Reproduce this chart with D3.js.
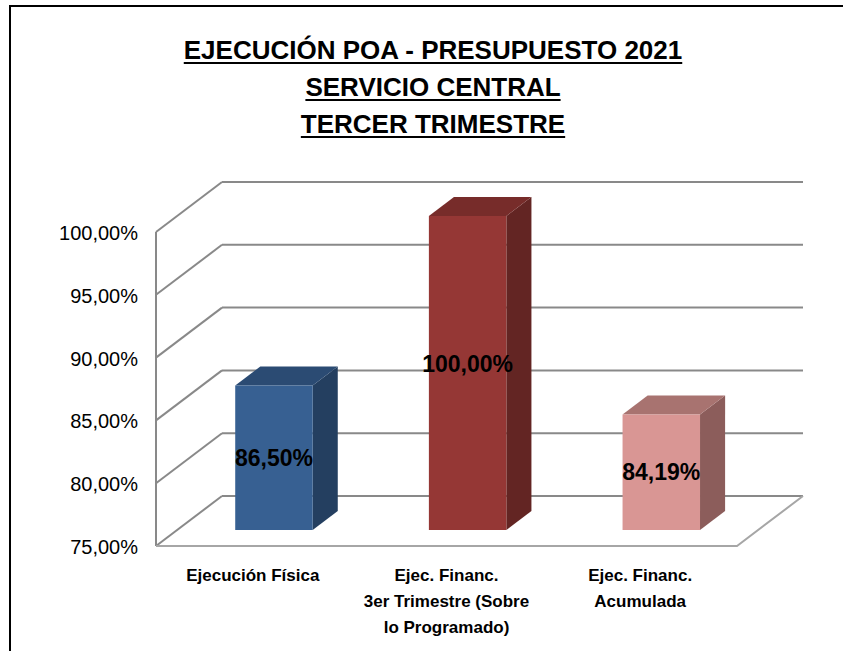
<!DOCTYPE html>
<html>
<head>
<meta charset="utf-8">
<script src="https://cdn.jsdelivr.net/npm/d3@7"></script>
<style>
  body { margin: 0; background: #fff; }
  svg { display: block; }
</style>
</head>
<body>
<div id="chart"></div>
<script>
// chart data
const titleLines = ["EJECUCIÓN POA - PRESUPUESTO 2021", "SERVICIO CENTRAL", "TERCER TRIMESTRE"];
const categories = ["Ejecución Física", "Ejec. Financ. 3er Trimestre (Sobre lo Programado)", "Ejec. Financ. Acumulada"];
const categoryLines = [["Ejecución Física"], ["Ejec. Financ.", "3er Trimestre (Sobre", "lo Programado)"], ["Ejec. Financ.", "Acumulada"]];
const values = [86.50, 100.00, 84.19];
const valueLabels = ["86,50%", "100,00%", "84,19%"];
const ticks = [75, 80, 85, 90, 95, 100];
const tickLabels = ["75,00%", "80,00%", "85,00%", "90,00%", "95,00%", "100,00%"];

const W = 843, H = 651;
const faces = [
  {front: "#376092", top: "#2b4b73", side: "#243f60"},
  {front: "#953735", top: "#772c2a", side: "#632523"},
  {front: "#d99694", top: "#a87370", side: "#8c5d5b"}
];

const svg = d3.select("#chart").append("svg")
  .attr("width", W).attr("height", H);

// outer frame
svg.append("path")
  .attr("d", `M10,${H} L10,6 L${W},6`)
  .attr("fill", "none").attr("stroke", "#000").attr("stroke-width", 2);

// title
const title = svg.append("g");
const titleY = [59, 96, 133];
titleLines.forEach((t, i) => {
  const txt = title.append("text")
    .attr("x", 433).attr("y", titleY[i])
    .attr("text-anchor", "middle")
    .attr("font-family", "'Liberation Sans', Arial, sans-serif")
    .attr("font-weight", "bold")
    .attr("font-size", "26px")
    .text(t);
  const len = txt.node().getComputedTextLength();
  title.append("line")
    .attr("x1", 433 - len / 2).attr("x2", 433 + len / 2)
    .attr("y1", titleY[i] + 4).attr("y2", titleY[i] + 4)
    .attr("stroke", "#000").attr("stroke-width", 2);
});

// 3D geometry: front plane scales plus a depth offset
const depthX = 66, depthY = -50;
const x = d3.scaleBand().domain(categories).range([156, 737]);
const y = d3.scaleLinear().domain([75, 100]).range([546, 232]);
const barD0 = 0.32, barD1 = 0.70, barFrac = 0.40;

function pt(px, py, d) { return [px + depthX * d, py + depthY * d]; }

// back gridlines and left wall diagonals
const grid = svg.append("g").attr("stroke", "#898989").attr("stroke-width", 2).attr("fill", "none");
ticks.forEach(v => {
  const a = pt(x.range()[0], y(v), 1), b = pt(x.range()[1], y(v), 1);
  grid.append("line").attr("x1", a[0]).attr("y1", a[1]).attr("x2", b[0]).attr("y2", b[1]);
  grid.append("line").attr("x1", x.range()[0]).attr("y1", y(v)).attr("x2", a[0]).attr("y2", a[1]);
});
// left wall front edge
grid.append("line")
  .attr("x1", x.range()[0]).attr("x2", x.range()[0])
  .attr("y1", y(100)).attr("y2", y(75));
// floor front and right edges
const f0 = [x.range()[0], y(75)], f1 = [x.range()[1], y(75)], f2 = pt(x.range()[1], y(75), 1);
svg.append("path")
  .attr("d", `M${f0} L${f1} L${f2}`)
  .attr("fill", "none").attr("stroke", "#a6a6a6").attr("stroke-width", 2);

// bars
const bars = svg.append("g");
categories.forEach((c, i) => {
  const v = values[i];
  const bw = x.bandwidth() * barFrac;
  const cx = x(c) + x.bandwidth() / 2;
  const xl = cx - bw / 2, xr = cx + bw / 2;
  const fTL = pt(xl, y(v), barD0), fTR = pt(xr, y(v), barD0);
  const fBL = pt(xl, y(75), barD0), fBR = pt(xr, y(75), barD0);
  const bTL = pt(xl, y(v), barD1), bTR = pt(xr, y(v), barD1), bBR = pt(xr, y(75), barD1);
  bars.append("path").attr("d", `M${fTR} L${bTR} L${bBR} L${fBR}Z`).attr("fill", faces[i].side);
  bars.append("path").attr("d", `M${fTL} L${bTL} L${bTR} L${fTR}Z`).attr("fill", faces[i].top);
  bars.append("path").attr("d", `M${fTL} L${fTR} L${fBR} L${fBL}Z`).attr("fill", faces[i].front);
});

// value labels, placed at the middle of the front face (tall bars sit a bit higher)
categories.forEach((c, i) => {
  const cx = x(c) + x.bandwidth() / 2 + depthX * barD0;
  const top = Math.min(y(values[i]), y(97));
  const my = (y(values[i]) + y(75)) / 2 + depthY * barD0;
  const ly = values[i] > 95 ? (y(values[i]) + depthY * barD1 + y(75) + depthY * barD0) / 2 : my;
  svg.append("text")
    .attr("x", cx).attr("y", ly + 8)
    .attr("text-anchor", "middle")
    .attr("font-family", "'Liberation Sans', Arial, sans-serif")
    .attr("font-weight", "bold").attr("font-size", "23px")
    .attr("fill", "#000")
    .text(valueLabels[i]);
});

// y axis labels
svg.append("g").selectAll("text").data(ticks).join("text")
  .attr("x", 138).attr("y", d => y(d) + 8)
  .attr("text-anchor", "end")
  .attr("font-family", "'Liberation Sans', Arial, sans-serif")
  .attr("font-size", "20px").attr("fill", "#000")
  .text((d, i) => tickLabels[i]);

// category labels
categories.forEach((c, i) => {
  const t = svg.append("text")
    .attr("x", x(c) + x.bandwidth() / 2)
    .attr("text-anchor", "middle")
    .attr("font-family", "'Liberation Sans', Arial, sans-serif")
    .attr("font-weight", "bold").attr("font-size", "17px")
    .attr("fill", "#000");
  categoryLines[i].forEach((line, j) => {
    t.append("tspan").attr("x", x(c) + x.bandwidth() / 2).attr("y", 581 + j * 26).text(line);
  });
});
</script>
</body>
</html>
